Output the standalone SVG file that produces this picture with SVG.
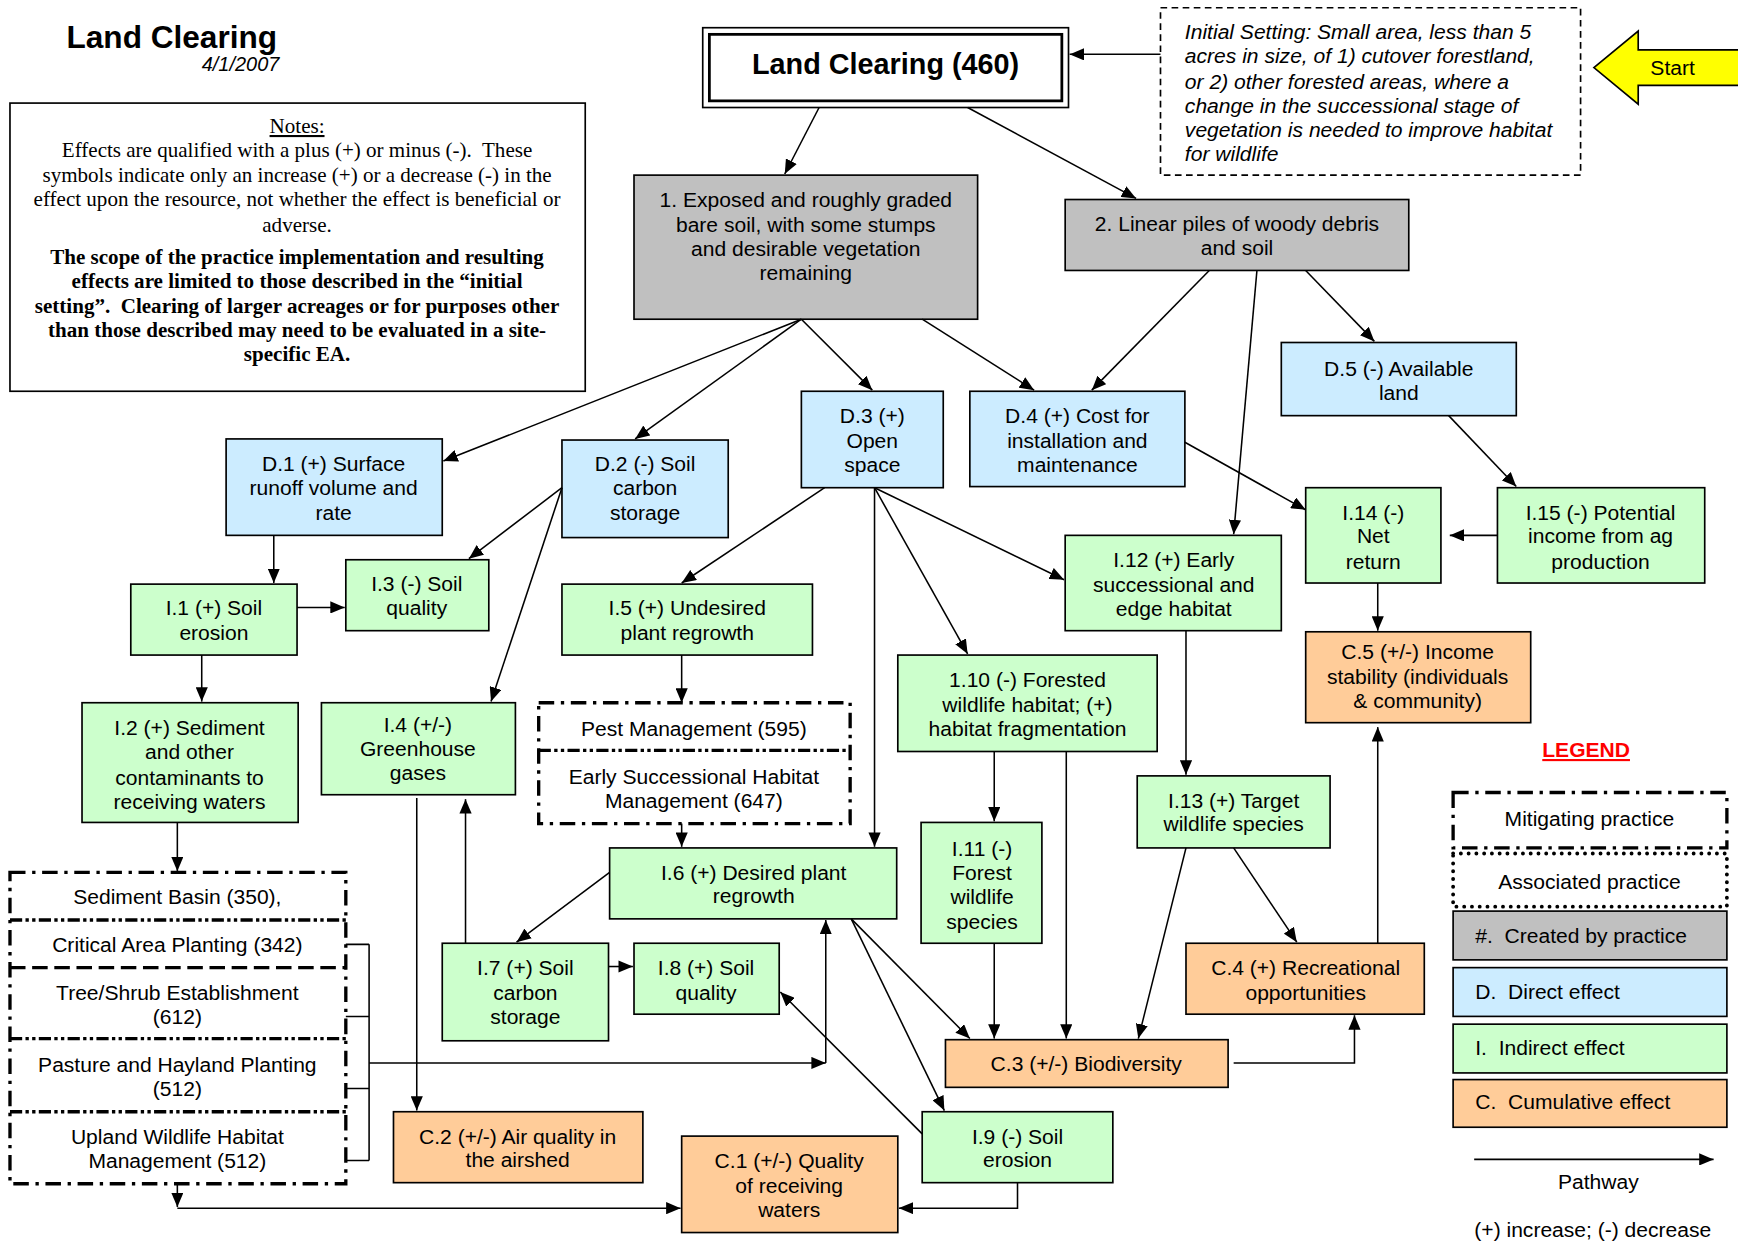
<svg xmlns="http://www.w3.org/2000/svg" width="1738" height="1241" viewBox="0 0 1738 1241">
<style>
  .bx { stroke: #000; stroke-width: 1.5; }
  .gr { fill: #C0C0C0; }
  .dr { fill: #CCECFF; }
  .in { fill: #CCFFCC; }
  .cu { fill: #FFCC99; }
  text { font-family: "Liberation Sans", Arial, sans-serif; font-size: 19px; fill: #000; white-space: pre; }
  .t { text-anchor: middle; }
  .serif { font-family: "Liberation Serif", "Times New Roman", serif; text-anchor: middle; }
  .cn line, .cn path { stroke: #000; stroke-width: 1.4; fill: none; }
  .arr { marker-end: url(#ah); }
  .mit { fill: #fff; stroke: #000; stroke-width: 3; stroke-dasharray: 14 6 3 6; }
  .sep { stroke: #000; stroke-width: 3; stroke-dasharray: 11 3 3 3 3 3; fill: none; }
  .sep2 { stroke: #000; stroke-width: 3; stroke-dasharray: 14 6; fill: none; }
</style>
<defs>
  <marker id="ah" viewBox="0 0 13 11" refX="13" refY="5.5" markerWidth="13" markerHeight="11" orient="auto" markerUnits="userSpaceOnUse">
    <path d="M0,0 L13,5.5 L0,11 z" fill="#000"/>
  </marker>
</defs>
<rect width="1738" height="1241" fill="#fff"/>
<g transform="scale(1.1084)">

  <!-- header -->
  <g id="title">
    <text x="60" y="43" style="font-size:28.5px;font-weight:bold">Land Clearing</text>
    <text x="252" y="64" style="font-size:18px;font-style:italic;text-anchor:end">4/1/2007</text>
  </g>

  <g id="notes">
    <rect x="9" y="93" width="519" height="260" fill="#fff" class="bx"/>
    <text class="serif" x="268" y="120" style="text-decoration:underline">Notes:</text>
    <text class="serif" x="268" y="142">Effects are qualified with a plus (+) or minus (-).  These</text>
    <text class="serif" x="268" y="164">symbols indicate only an increase (+) or a decrease (-) in the</text>
    <text class="serif" x="268" y="186">effect upon the resource, not whether the effect is beneficial or</text>
    <text class="serif" x="268" y="209">adverse.</text>
    <text class="serif" x="268" y="238" font-weight="bold">The scope of the practice implementation and resulting</text>
    <text class="serif" x="268" y="260" font-weight="bold">effects are limited to those described in the “initial</text>
    <text class="serif" x="268" y="282" font-weight="bold">setting”.  Clearing of larger acreages or for purposes other</text>
    <text class="serif" x="268" y="304" font-weight="bold">than those described may need to be evaluated in a site-</text>
    <text class="serif" x="268" y="326" font-weight="bold">specific EA.</text>
  </g>

  <g id="practice">
    <rect x="634" y="25" width="330" height="72" fill="#fff" stroke="#000" stroke-width="1.5"/>
    <rect x="640" y="31" width="318" height="60" fill="none" stroke="#000" stroke-width="2.5"/>
    <text class="t" x="799" y="67" style="font-size:26px;font-weight:bold">Land Clearing (460)</text>
  </g>

  <g id="initial-setting">
    <rect x="1047" y="7" width="379" height="151" fill="#fff" stroke="#000" stroke-width="1.5" stroke-dasharray="6 4"/>
    <g style="font-style:italic">
      <text x="1069" y="35">Initial Setting: Small area, less than 5</text>
      <text x="1069" y="57">acres in size, of 1) cutover forestland,</text>
      <text x="1069" y="80">or 2) other forested areas, where a</text>
      <text x="1069" y="102">change in the successional stage of</text>
      <text x="1069" y="124">vegetation is needed to improve habitat</text>
      <text x="1069" y="145">for wildlife</text>
    </g>
  </g>

  <g id="start">
    <polygon points="1438,61 1478,28 1478,45 1570,45 1570,77 1478,77 1478,94" fill="#FFFF00" stroke="#000" stroke-width="1.5"/>
    <text class="t" x="1509" y="68">Start</text>
  </g>

  <!-- created by practice -->
  <g id="n1">
    <rect x="572" y="158" width="310" height="130" class="bx gr"/>
    <text class="t" x="727" y="187">1. Exposed and roughly graded</text>
    <text class="t" x="727" y="209">bare soil, with some stumps</text>
    <text class="t" x="727" y="231">and desirable vegetation</text>
    <text class="t" x="727" y="253">remaining</text>
  </g>
  <g id="n2">
    <rect x="961" y="180" width="310" height="64" class="bx gr"/>
    <text class="t" x="1116" y="208">2. Linear piles of woody debris</text>
    <text class="t" x="1116" y="230">and soil</text>
  </g>

  <!-- direct effects -->
  <g id="d1">
    <rect x="204" y="396" width="195" height="87" class="bx dr"/>
    <text class="t" x="301" y="425">D.1 (+) Surface</text>
    <text class="t" x="301" y="447">runoff volume and</text>
    <text class="t" x="301" y="469">rate</text>
  </g>
  <g id="d2">
    <rect x="507" y="397" width="150" height="88" class="bx dr"/>
    <text class="t" x="582" y="425">D.2 (-) Soil</text>
    <text class="t" x="582" y="447">carbon</text>
    <text class="t" x="582" y="469">storage</text>
  </g>
  <g id="d3">
    <rect x="723" y="353" width="128" height="87" class="bx dr"/>
    <text class="t" x="787" y="382">D.3 (+)</text>
    <text class="t" x="787" y="404">Open</text>
    <text class="t" x="787" y="426">space</text>
  </g>
  <g id="d4">
    <rect x="875" y="353" width="194" height="86" class="bx dr"/>
    <text class="t" x="972" y="382">D.4 (+) Cost for</text>
    <text class="t" x="972" y="404">installation and</text>
    <text class="t" x="972" y="426">maintenance</text>
  </g>
  <g id="d5">
    <rect x="1156" y="309" width="212" height="66" class="bx dr"/>
    <text class="t" x="1262" y="339">D.5 (-) Available</text>
    <text class="t" x="1262" y="361">land</text>
  </g>

  <!-- indirect effects -->
  <g id="i1">
    <rect x="118" y="527" width="150" height="64" class="bx in"/>
    <text class="t" x="193" y="555">I.1 (+) Soil</text>
    <text class="t" x="193" y="577">erosion</text>
  </g>
  <g id="i2">
    <rect x="74" y="634" width="195" height="108" class="bx in"/>
    <text class="t" x="171" y="663">I.2 (+) Sediment</text>
    <text class="t" x="171" y="685">and other</text>
    <text class="t" x="171" y="708">contaminants to</text>
    <text class="t" x="171" y="730">receiving waters</text>
  </g>
  <g id="i3">
    <rect x="312" y="505" width="129" height="64" class="bx in"/>
    <text class="t" x="376" y="533">I.3 (-) Soil</text>
    <text class="t" x="376" y="555">quality</text>
  </g>
  <g id="i4">
    <rect x="290" y="634" width="175" height="83" class="bx in"/>
    <text class="t" x="377" y="660">I.4 (+/-)</text>
    <text class="t" x="377" y="682">Greenhouse</text>
    <text class="t" x="377" y="704">gases</text>
  </g>
  <g id="i5">
    <rect x="507" y="527" width="226" height="64" class="bx in"/>
    <text class="t" x="620" y="555">I.5 (+) Undesired</text>
    <text class="t" x="620" y="577">plant regrowth</text>
  </g>
  <g id="i6">
    <rect x="550" y="765" width="259" height="64" class="bx in"/>
    <text class="t" x="680" y="794">I.6 (+) Desired plant</text>
    <text class="t" x="680" y="815">regrowth</text>
  </g>
  <g id="i7">
    <rect x="399" y="851" width="150" height="88" class="bx in"/>
    <text class="t" x="474" y="880">I.7 (+) Soil</text>
    <text class="t" x="474" y="902">carbon</text>
    <text class="t" x="474" y="924">storage</text>
  </g>
  <g id="i8">
    <rect x="572" y="851" width="131" height="64" class="bx in"/>
    <text class="t" x="637" y="880">I.8 (+) Soil</text>
    <text class="t" x="637" y="902">quality</text>
  </g>
  <g id="i9">
    <rect x="832" y="1003" width="172" height="64" class="bx in"/>
    <text class="t" x="918" y="1032">I.9 (-) Soil</text>
    <text class="t" x="918" y="1053">erosion</text>
  </g>
  <g id="i10">
    <rect x="810" y="591" width="234" height="87" class="bx in"/>
    <text class="t" x="927" y="620">1.10 (-) Forested</text>
    <text class="t" x="927" y="642">wildlife habitat; (+)</text>
    <text class="t" x="927" y="664">habitat fragmentation</text>
  </g>
  <g id="i11">
    <rect x="831" y="742" width="109" height="109" class="bx in"/>
    <text class="t" x="886" y="772">I.11 (-)</text>
    <text class="t" x="886" y="794">Forest</text>
    <text class="t" x="886" y="816">wildlife</text>
    <text class="t" x="886" y="838">species</text>
  </g>
  <g id="i12">
    <rect x="961" y="483" width="195" height="86" class="bx in"/>
    <text class="t" x="1059" y="512">I.12 (+) Early</text>
    <text class="t" x="1059" y="534">successional and</text>
    <text class="t" x="1059" y="556">edge habitat</text>
  </g>
  <g id="i13">
    <rect x="1026" y="700" width="174" height="65" class="bx in"/>
    <text class="t" x="1113" y="729">I.13 (+) Target</text>
    <text class="t" x="1113" y="750">wildlife species</text>
  </g>
  <g id="i14">
    <rect x="1178" y="440" width="122" height="86" class="bx in"/>
    <text class="t" x="1239" y="469">I.14 (-)</text>
    <text class="t" x="1239" y="490">Net</text>
    <text class="t" x="1239" y="513">return</text>
  </g>
  <g id="i15">
    <rect x="1351" y="440" width="187" height="86" class="bx in"/>
    <text class="t" x="1444" y="469">I.15 (-) Potential</text>
    <text class="t" x="1444" y="490">income from ag</text>
    <text class="t" x="1444" y="513">production</text>
  </g>

  <!-- cumulative effects -->
  <g id="c1">
    <rect x="615" y="1025" width="195" height="87" class="bx cu"/>
    <text class="t" x="712" y="1054">C.1 (+/-) Quality</text>
    <text class="t" x="712" y="1076">of receiving</text>
    <text class="t" x="712" y="1098">waters</text>
  </g>
  <g id="c2">
    <rect x="355" y="1003" width="225" height="64" class="bx cu"/>
    <text class="t" x="467" y="1032">C.2 (+/-) Air quality in</text>
    <text class="t" x="467" y="1053">the airshed</text>
  </g>
  <g id="c3">
    <rect x="853" y="938" width="255" height="43" class="bx cu"/>
    <text class="t" x="980" y="966">C.3 (+/-) Biodiversity</text>
  </g>
  <g id="c4">
    <rect x="1070" y="851" width="215" height="64" class="bx cu"/>
    <text class="t" x="1178" y="880">C.4 (+) Recreational</text>
    <text class="t" x="1178" y="902">opportunities</text>
  </g>
  <g id="c5">
    <rect x="1178" y="570" width="203" height="82" class="bx cu"/>
    <text class="t" x="1279" y="595">C.5 (+/-) Income</text>
    <text class="t" x="1279" y="617">stability (individuals</text>
    <text class="t" x="1279" y="639">&amp; community)</text>
  </g>

  <!-- mitigating practices -->
  <g id="m-pest">
    <rect x="486" y="634" width="281" height="109" class="mit"/>
    <line x1="486" y1="677" x2="767" y2="677" class="sep"/>
    <text class="t" x="626" y="664">Pest Management (595)</text>
    <text class="t" x="626" y="707">Early Successional Habitat</text>
    <text class="t" x="626" y="729">Management (647)</text>
  </g>
  <g id="m-stack">
    <rect x="9" y="787" width="303" height="281" class="mit"/>
    <line x1="9" y1="830" x2="312" y2="830" class="sep"/>
    <line x1="9" y1="873" x2="312" y2="873" class="sep2"/>
    <line x1="9" y1="937" x2="312" y2="937" class="sep"/>
    <line x1="9" y1="1003" x2="312" y2="1003" class="sep"/>
    <text class="t" x="160" y="816">Sediment Basin (350),</text>
    <text class="t" x="160" y="859">Critical Area Planting (342)</text>
    <text class="t" x="160" y="902">Tree/Shrub Establishment</text>
    <text class="t" x="160" y="924">(612)</text>
    <text class="t" x="160" y="967">Pasture and Hayland Planting</text>
    <text class="t" x="160" y="989">(512)</text>
    <text class="t" x="160" y="1032">Upland Wildlife Habitat</text>
    <text class="t" x="160" y="1054">Management (512)</text>
  </g>

  <!-- pathways -->
  <g id="connectors" class="cn">
    <line x1="1047" y1="49" x2="965" y2="49" class="arr"/>
    <line x1="739" y1="97" x2="708" y2="157" class="arr"/>
    <line x1="873" y1="97" x2="1025" y2="179" class="arr"/>
    <line x1="723" y1="288" x2="400" y2="416" class="arr"/>
    <line x1="723" y1="288" x2="573" y2="396" class="arr"/>
    <line x1="723" y1="288" x2="787" y2="352" class="arr"/>
    <line x1="832" y1="288" x2="933" y2="352" class="arr"/>
    <line x1="1091" y1="244" x2="985" y2="352" class="arr"/>
    <line x1="1134" y1="244" x2="1113" y2="482" class="arr"/>
    <line x1="1178" y1="244" x2="1240" y2="308" class="arr"/>
    <line x1="1069" y1="399" x2="1178" y2="460" class="arr"/>
    <line x1="1307" y1="375" x2="1368" y2="439" class="arr"/>
    <line x1="1351" y1="483" x2="1308" y2="483" class="arr"/>
    <line x1="1243" y1="526" x2="1243" y2="569" class="arr"/>
    <line x1="247" y1="483" x2="247" y2="526" class="arr"/>
    <line x1="268" y1="548" x2="311" y2="548" class="arr"/>
    <line x1="507" y1="440" x2="423" y2="504" class="arr"/>
    <line x1="507" y1="440" x2="443" y2="633" class="arr"/>
    <line x1="182" y1="591" x2="182" y2="633" class="arr"/>
    <line x1="744" y1="440" x2="615" y2="526" class="arr"/>
    <line x1="789" y1="440" x2="789" y2="764" class="arr"/>
    <line x1="789" y1="440" x2="873" y2="590" class="arr"/>
    <line x1="789" y1="440" x2="960" y2="523" class="arr"/>
    <line x1="615" y1="591" x2="615" y2="634" class="arr"/>
    <line x1="615" y1="743" x2="615" y2="764" class="arr"/>
    <line x1="550" y1="787" x2="466" y2="850" class="arr"/>
    <line x1="549" y1="872" x2="571" y2="872" class="arr"/>
    <line x1="420" y1="851" x2="420" y2="721" class="arr"/>
    <line x1="376" y1="720" x2="376" y2="1002" class="arr"/>
    <line x1="768" y1="829" x2="875" y2="937" class="arr"/>
    <line x1="768" y1="829" x2="852" y2="1002" class="arr"/>
    <line x1="832" y1="1023" x2="704" y2="895" class="arr"/>
    <line x1="897" y1="678" x2="897" y2="741" class="arr"/>
    <line x1="962" y1="678" x2="962" y2="937" class="arr"/>
    <line x1="897" y1="851" x2="897" y2="937" class="arr"/>
    <line x1="1070" y1="569" x2="1070" y2="699" class="arr"/>
    <line x1="1070" y1="765" x2="1027" y2="937" class="arr"/>
    <line x1="1113" y1="765" x2="1170" y2="850" class="arr"/>
    <path d="M1113,959 H1222 V916" class="arr"/>
    <line x1="1243" y1="851" x2="1243" y2="656" class="arr"/>
    <path d="M918,1067 V1090 H811" class="arr"/>
    <line x1="160" y1="742" x2="160" y2="786" class="arr"/>
    <path d="M312,852 H333 M312,917 H333 M312,982 H333 M312,1047 H333 M333,852 V1047"/>
    <line x1="333" y1="959" x2="745" y2="959" class="arr"/>
    <line x1="745" y1="959" x2="745" y2="830" class="arr"/>
    <line x1="160" y1="1068" x2="160" y2="1089" class="arr"/>
    <line x1="160" y1="1090" x2="614" y2="1090" class="arr"/>
  </g>

  <!-- legend -->
  <g id="legend">
    <text class="t" x="1431" y="683" style="fill:#FF0000;font-weight:bold;text-decoration:underline">LEGEND</text>
    <rect x="1311" y="715" width="247" height="50" class="mit"/>
    <text class="t" x="1434" y="745">Mitigating practice</text>
    <rect x="1311" y="770" width="247" height="48" fill="#fff" stroke="#000" stroke-width="3.5" stroke-linecap="round" stroke-dasharray="0 7"/>
    <text class="t" x="1434" y="802">Associated practice</text>
    <rect x="1311" y="822" width="247" height="44" class="bx gr"/>
    <text x="1331" y="851">#.  Created by practice</text>
    <rect x="1311" y="873" width="247" height="44" class="bx dr"/>
    <text x="1331" y="901">D.  Direct effect</text>
    <rect x="1311" y="924" width="247" height="44" class="bx in"/>
    <text x="1331" y="952">I.  Indirect effect</text>
    <rect x="1311" y="974" width="247" height="43" class="bx cu"/>
    <text x="1331" y="1001">C.  Cumulative effect</text>
    <line x1="1330" y1="1046" x2="1546" y2="1046" stroke="#000" stroke-width="1.4" marker-end="url(#ah)"/>
    <text class="t" x="1442" y="1073">Pathway</text>
    <text class="t" x="1437" y="1116">(+) increase; (-) decrease</text>
  </g>
</g>
</svg>
